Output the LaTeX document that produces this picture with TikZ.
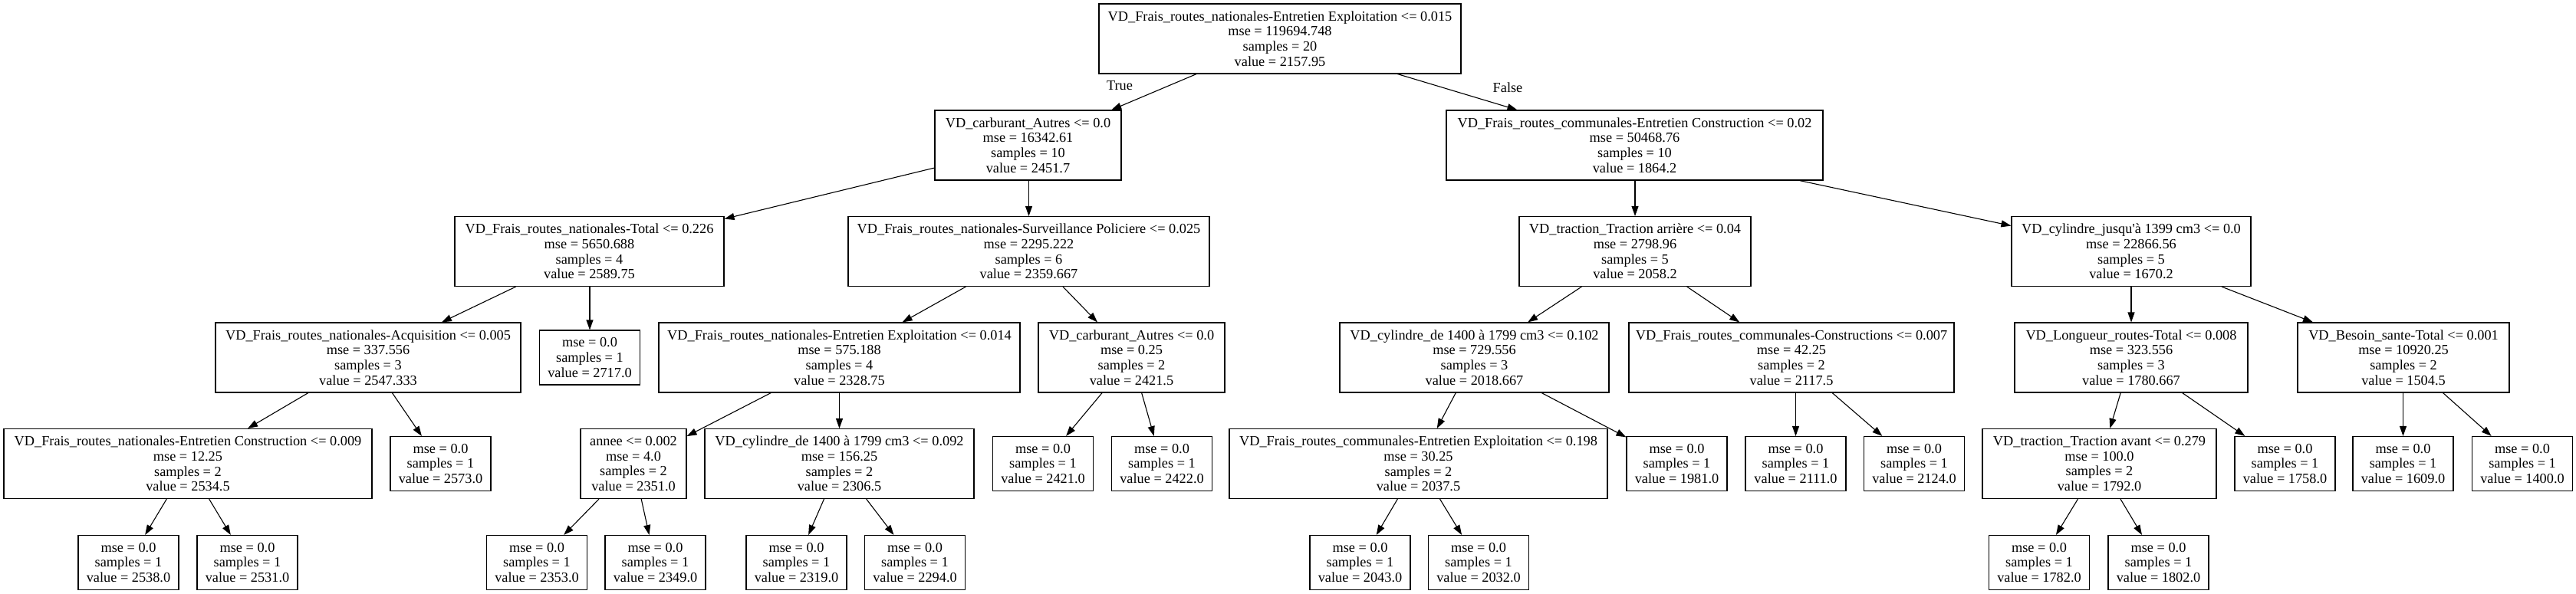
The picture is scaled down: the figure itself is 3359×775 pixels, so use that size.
\documentclass[tikz,border=0pt]{standalone}
\usepackage{fontspec}
\setmainfont{Liberation Serif}[Ligatures=TeXOff]
\usetikzlibrary{arrows.meta}
\begin{document}
\begin{tikzpicture}[x=1pt,y=-1pt,
  txt/.style={font=\fontsize{18.3}{19.8}\selectfont},
  split/.style={txt, draw, line width=1.1pt, rectangle, inner sep=0pt, minimum height=91pt, align=center},
  leaf/.style={split, minimum height=71pt, minimum width=131pt},
  arr/.style={-{Triangle[length=13pt,width=9pt]}, line width=1.1pt},
  lbl/.style={txt, inner sep=0pt}]
\fill[white] (0,0) rectangle (3359,775);
\useasboundingbox (0,0) rectangle (3359,775);
% level 0
\node[split, minimum width=472pt] (n0) at (1669,50.5) {VD\_Frais\_routes\_nationales-Entretien Exploitation <= 0.015\\mse = 119694.748\\samples = 20\\value = 2157.95};
% level 1
\node[split, minimum width=243pt] (n1) at (1340.5,189.5) {VD\_carburant\_Autres <= 0.0\\mse = 16342.61\\samples = 10\\value = 2451.7};
\node[split, minimum width=491pt] (n2) at (2131.5,189.5) {VD\_Frais\_routes\_communales-Entretien Construction <= 0.02\\mse = 50468.76\\samples = 10\\value = 1864.2};
% level 2
\node[split, minimum width=351pt] (n3) at (768.5,328) {VD\_Frais\_routes\_nationales-Total <= 0.226\\mse = 5650.688\\samples = 4\\value = 2589.75};
\node[split, minimum width=471pt] (n4) at (1341.5,328) {VD\_Frais\_routes\_nationales-Surveillance Policiere <= 0.025\\mse = 2295.222\\samples = 6\\value = 2359.667};
\node[split, minimum width=302pt] (n5) at (2132,328) {VD\_traction\_Traction arrière <= 0.04\\mse = 2798.96\\samples = 5\\value = 2058.2};
\node[split, minimum width=312pt] (n6) at (2779,328) {VD\_cylindre\_jusqu'à 1399 cm3 <= 0.0\\mse = 22866.56\\samples = 5\\value = 1670.2};
% level 3
\node[split, minimum width=398pt] (n7) at (480,466.5) {VD\_Frais\_routes\_nationales-Acquisition <= 0.005\\mse = 337.556\\samples = 3\\value = 2547.333};
\node[leaf] (n8) at (769,466.5) {mse = 0.0\\samples = 1\\value = 2717.0};
\node[split, minimum width=471pt] (n9) at (1094.5,466.5) {VD\_Frais\_routes\_nationales-Entretien Exploitation <= 0.014\\mse = 575.188\\samples = 4\\value = 2328.75};
\node[split, minimum width=243pt] (n10) at (1475.5,466.5) {VD\_carburant\_Autres <= 0.0\\mse = 0.25\\samples = 2\\value = 2421.5};
\node[split, minimum width=351pt] (n11) at (1922.5,466.5) {VD\_cylindre\_de 1400 à 1799 cm3 <= 0.102\\mse = 729.556\\samples = 3\\value = 2018.667};
\node[split, minimum width=424pt] (n12) at (2336,466.5) {VD\_Frais\_routes\_communales-Constructions <= 0.007\\mse = 42.25\\samples = 2\\value = 2117.5};
\node[split, minimum width=304pt] (n13) at (2779,466.5) {VD\_Longueur\_routes-Total <= 0.008\\mse = 323.556\\samples = 3\\value = 1780.667};
\node[split, minimum width=276pt] (n14) at (3134,466.5) {VD\_Besoin\_sante-Total <= 0.001\\mse = 10920.25\\samples = 2\\value = 1504.5};
% level 4
\node[split, minimum width=480pt] (n15) at (245,605) {VD\_Frais\_routes\_nationales-Entretien Construction <= 0.009\\mse = 12.25\\samples = 2\\value = 2534.5};
\node[leaf] (n16) at (574.5,605) {mse = 0.0\\samples = 1\\value = 2573.0};
\node[split, minimum width=138pt] (n17) at (826,605) {annee <= 0.002\\mse = 4.0\\samples = 2\\value = 2351.0};
\node[split, minimum width=351pt] (n18) at (1094.5,605) {VD\_cylindre\_de 1400 à 1799 cm3 <= 0.092\\mse = 156.25\\samples = 2\\value = 2306.5};
\node[leaf] (n19) at (1360,605) {mse = 0.0\\samples = 1\\value = 2421.0};
\node[leaf] (n20) at (1515,605) {mse = 0.0\\samples = 1\\value = 2422.0};
\node[split, minimum width=493pt] (n21) at (1849.5,605) {VD\_Frais\_routes\_communales-Entretien Exploitation <= 0.198\\mse = 30.25\\samples = 2\\value = 2037.5};
\node[leaf] (n22) at (2186.5,605) {mse = 0.0\\samples = 1\\value = 1981.0};
\node[leaf] (n23) at (2341.5,605) {mse = 0.0\\samples = 1\\value = 2111.0};
\node[leaf] (n24) at (2496,605) {mse = 0.0\\samples = 1\\value = 2124.0};
\node[split, minimum width=305pt] (n25) at (2737.5,605) {VD\_traction\_Traction avant <= 0.279\\mse = 100.0\\samples = 2\\value = 1792.0};
\node[leaf] (n26) at (2979.5,605) {mse = 0.0\\samples = 1\\value = 1758.0};
\node[leaf] (n27) at (3133.5,605) {mse = 0.0\\samples = 1\\value = 1609.0};
\node[leaf] (n28) at (3289,605) {mse = 0.0\\samples = 1\\value = 1400.0};
% level 5
\node[leaf] (n29) at (167.5,734) {mse = 0.0\\samples = 1\\value = 2538.0};
\node[leaf] (n30) at (322.5,734) {mse = 0.0\\samples = 1\\value = 2531.0};
\node[leaf] (n31) at (700,734) {mse = 0.0\\samples = 1\\value = 2353.0};
\node[leaf] (n32) at (854.5,734) {mse = 0.0\\samples = 1\\value = 2349.0};
\node[leaf] (n33) at (1038.5,734) {mse = 0.0\\samples = 1\\value = 2319.0};
\node[leaf] (n34) at (1193,734) {mse = 0.0\\samples = 1\\value = 2294.0};
\node[leaf] (n35) at (1773.5,734) {mse = 0.0\\samples = 1\\value = 2043.0};
\node[leaf] (n36) at (1928,734) {mse = 0.0\\samples = 1\\value = 2032.0};
\node[leaf] (n37) at (2659,734) {mse = 0.0\\samples = 1\\value = 1782.0};
\node[leaf] (n38) at (2814.5,734) {mse = 0.0\\samples = 1\\value = 1802.0};
% edge labels
\node[lbl] (tl) at (1460,112) {True};
\node[lbl] (fl) at (1966,114.5) {False};
% edges
\draw[arr] (n0) -- (n1);
\draw[arr] (n0) -- (n2);
\draw[arr] (n1) -- (n3);
\draw[arr] (n1.south -| n4.north) -- (n4.north);
\draw[arr] (n2.south -| n5.north) -- (n5.north);
\draw[arr] (n2) -- (n6);
\draw[arr] (n3) -- (n7);
\draw[arr] (n3.south -| n8.north) -- (n8.north);
\draw[arr] (n4) -- (n9);
\draw[arr] (n4) -- (n10);
\draw[arr] (n5) -- (n11);
\draw[arr] (n5) -- (n12);
\draw[arr] (n6.south -| n13.north) -- (n13.north);
\draw[arr] (n6) -- (n14);
\draw[arr] (n7) -- (n15);
\draw[arr] (n7) -- (n16);
\draw[arr] (n9) -- (n17);
\draw[arr] (n9.south -| n18.north) -- (n18.north);
\draw[arr] (n10) -- (n19);
\draw[arr] (n10) -- (n20);
\draw[arr] (n11) -- (n21);
\draw[arr] (n11) -- (n22);
\draw[arr] (n12.south -| n23.north) -- (n23.north);
\draw[arr] (n12) -- (n24);
\draw[arr] (n13) -- (n25);
\draw[arr] (n13) -- (n26);
\draw[arr] (n14.south -| n27.north) -- (n27.north);
\draw[arr] (n14) -- (n28);
\draw[arr] (n15) -- (n29);
\draw[arr] (n15) -- (n30);
\draw[arr] (n17) -- (n31);
\draw[arr] (n17) -- (n32);
\draw[arr] (n18) -- (n33);
\draw[arr] (n18) -- (n34);
\draw[arr] (n21) -- (n35);
\draw[arr] (n21) -- (n36);
\draw[arr] (n25) -- (n37);
\draw[arr] (n25) -- (n38);
\end{tikzpicture}
\end{document}
